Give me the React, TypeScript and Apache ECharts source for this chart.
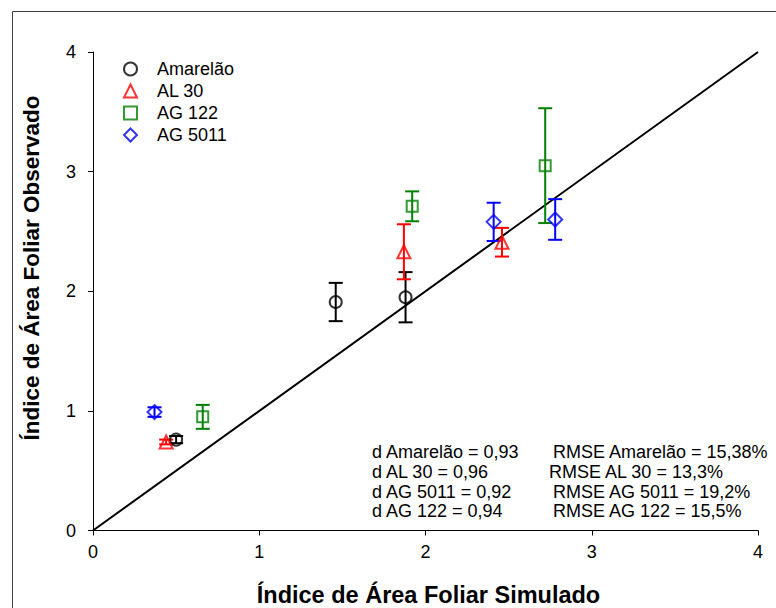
import React, { useEffect, useRef } from "react";
import * as echarts from "echarts";

// Simulated vs observed leaf area index, three sampling dates per cultivar
const cultivars = ["Amarelão", "AL 30", "AG 122", "AG 5011"];
const colors = ["#000000", "#ff0000", "#008000", "#0000ff"];
const symbols = ["circle", "triangle", "rect", "diamond"];
const symbolSizes = [12, 13, 11, 14];

const simulated = {
  "Amarelão": [0.5, 1.46, 1.88],
  "AL 30": [0.44, 1.87, 2.46],
  "AG 122": [0.66, 1.92, 2.72],
  "AG 5011": [0.37, 2.41, 2.78],
};
const observed = {
  "Amarelão": [0.76, 1.91, 1.95],
  "AL 30": [0.74, 2.33, 2.41],
  "AG 122": [0.95, 2.71, 3.05],
  "AG 5011": [0.99, 2.58, 2.6],
};
const stdError = {
  "Amarelão": [0.03, 0.16, 0.21],
  "AL 30": [0.02, 0.23, 0.12],
  "AG 122": [0.1, 0.125, 0.48],
  "AG 5011": [0.04, 0.16, 0.17],
};

const oneToOne = [
  [0, 0],
  [4, 4],
];
const axisTicks = [0, 1, 2, 3, 4];

const statsD = [
  "d Amarelão = 0,93",
  "d AL 30 = 0,96",
  "d AG 5011 = 0,92",
  "d AG 122 = 0,94",
];
const statsRmse = [
  "RMSE Amarelão = 15,38%",
  "RMSE AL 30 = 13,3%",
  "RMSE AG 5011 = 19,2%",
  "RMSE AG 122 = 15,5%",
];
const rmseOffsets = [0, -4, 0, 0];

const FONT = "'Liberation Sans', Arial, sans-serif";

export default function App() {
  const ref = useRef<HTMLDivElement>(null);

  useEffect(() => {
    if (!ref.current) return;
    const chart = echarts.init(ref.current, null, { renderer: "svg" });

    const scatterSeries = cultivars.map((name, i) => ({
      type: "scatter",
      name,
      symbol: symbols[i],
      symbolSize: symbolSizes[i],
      z: 4,
      itemStyle: {
        color: "rgba(255,255,255,0)",
        borderColor: colors[i],
        borderWidth: 2,
      },
      data: simulated[name].map((x: number, k: number) => [x, observed[name][k]]),
    }));

    const errorSeries = cultivars.map((name, i) => ({
      type: "custom",
      id: "err-" + i,
      z: 3,
      silent: true,
      data: simulated[name].map((x: number, k: number) => [
        x,
        observed[name][k] - stdError[name][k],
        observed[name][k] + stdError[name][k],
      ]),
      renderItem: (params: any, api: any) => {
        const lo = api.coord([api.value(0), api.value(1)]);
        const hi = api.coord([api.value(0), api.value(2)]);
        const half = 7;
        const style = { stroke: colors[i], lineWidth: 2 };
        return {
          type: "group",
          children: [
            { type: "line", shape: { x1: lo[0], y1: lo[1], x2: hi[0], y2: hi[1] }, style },
            { type: "line", shape: { x1: lo[0] - half, y1: lo[1], x2: lo[0] + half, y2: lo[1] }, style },
            { type: "line", shape: { x1: hi[0] - half, y1: hi[1], x2: hi[0] + half, y2: hi[1] }, style },
          ],
        };
      },
    }));

    const statTexts: any[] = [];
    statsD.forEach((t, r) => {
      statTexts.push({
        type: "text",
        left: 372,
        top: 443 + r * 19.8,
        style: { text: t, font: `18px ${FONT}`, fill: "#000" },
      });
      statTexts.push({
        type: "text",
        left: 553 + rmseOffsets[r],
        top: 443 + r * 19.8,
        style: { text: statsRmse[r], font: `18px ${FONT}`, fill: "#000" },
      });
    });

    const axisCommon = {
      min: 0,
      max: 4,
      interval: 1,
      splitLine: { show: false },
      axisLine: { show: true, onZero: false, lineStyle: { color: "#000", width: 1 } },
      axisTick: { show: true, inside: false, length: 5, lineStyle: { color: "#000" } },
    };

    chart.setOption({
      animation: false,
      backgroundColor: "#fff",
      textStyle: { fontFamily: FONT },
      grid: {
        left: 93,
        top: 52,
        width: 665,
        height: 478.5,
        containLabel: false,
        outerBoundsMode: "none",
      },
      xAxis: {
        ...axisCommon,
        type: "value",
        name: "Índice de Área Foliar Simulado",
        nameLocation: "middle",
        nameGap: 52,
        nameTextStyle: { fontFamily: FONT, fontSize: 23.5, fontWeight: "bold", color: "#000", padding: [0, 0, 0, 6] },
        axisLabel: {
          margin: 12,
          fontSize: 18,
          color: "#000",
          fontFamily: FONT,
          formatter: (v: number) => (axisTicks.includes(v) ? String(v) : ""),
        },
      },
      yAxis: {
        ...axisCommon,
        type: "value",
        axisLabel: {
          margin: 17,
          fontSize: 18,
          color: "#000",
          fontFamily: FONT,
          formatter: (v: number) => (axisTicks.includes(v) ? String(v) : ""),
        },
      },
      legend: {
        orient: "vertical",
        left: 118,
        top: 55,
        itemWidth: 13,
        itemHeight: 13,
        itemGap: 4,
        data: cultivars,
        textStyle: { fontFamily: FONT, fontSize: 18, color: "#000", padding: [0, 0, 0, 15] },
        selectedMode: false,
      },
      graphic: [
        {
          type: "rect",
          z: -1,
          shape: { x: 12.5, y: 11.5, width: 900, height: 800 },
          style: { fill: "none", stroke: "#444", lineWidth: 1 },
        },
        {
          type: "text",
          x: 31,
          y: 268,
          rotation: Math.PI / 2,
          style: {
            text: "Índice de Área Foliar Observado",
            font: `bold 22.5px ${FONT}`,
            fill: "#000",
            align: "center",
            verticalAlign: "middle",
          },
        },
        ...statTexts,
      ],
      series: [
        {
          type: "line",
          data: oneToOne,
          showSymbol: false,
          symbol: "none",
          z: 2,
          silent: true,
          lineStyle: { color: "#000", width: 2 },
        },
        ...errorSeries,
        ...scatterSeries,
      ],
    });

    return () => chart.dispose();
  }, []);

  return (
    <div
      ref={ref}
      style={{ position: "fixed", left: 0, top: 0, width: 776, height: 608, background: "#fff" }}
    />
  );
}
